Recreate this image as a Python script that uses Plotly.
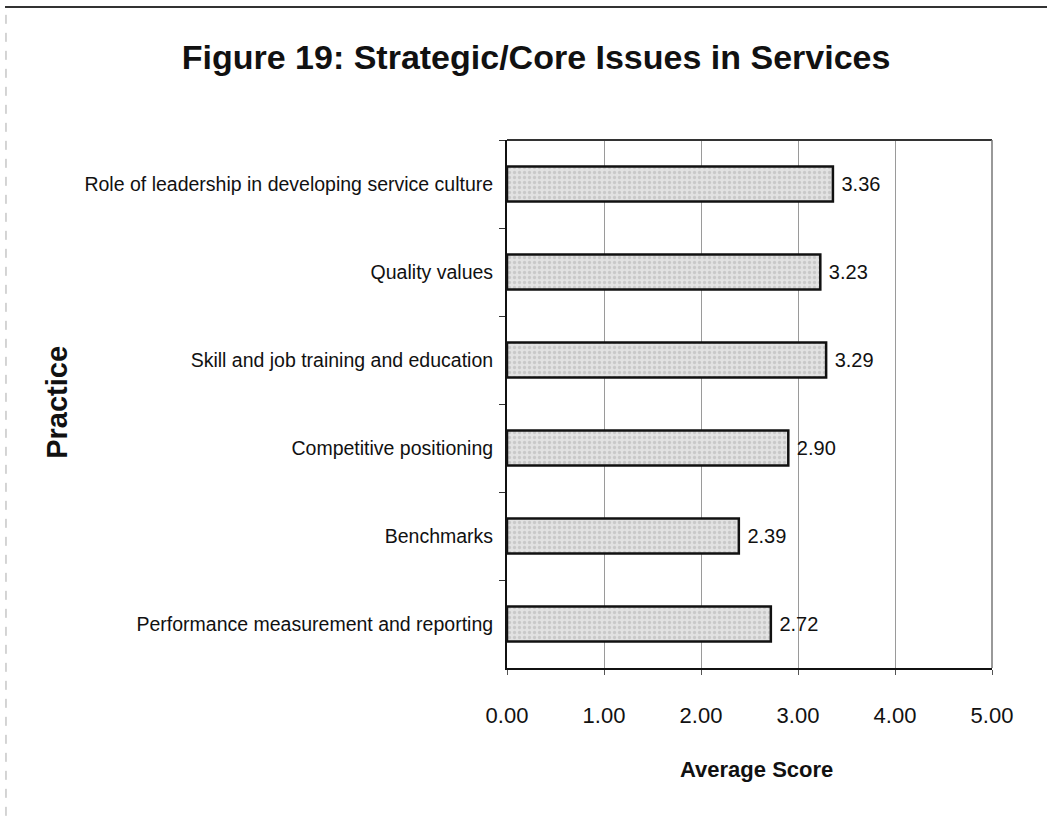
import plotly.graph_objects as go

categories = [
    "Role of leadership in developing service culture",
    "Quality values",
    "Skill and job training and education",
    "Competitive positioning",
    "Benchmarks",
    "Performance measurement and reporting",
]
scores = [3.36, 3.23, 3.29, 2.90, 2.39, 2.72]
x_ticks = [0, 1, 2, 3, 4, 5]
x_tick_labels = ["0.00", "1.00", "2.00", "3.00", "4.00", "5.00"]

FONT = "Liberation Sans, Arial, sans-serif"

fig = go.Figure(
    go.Bar(
        x=scores,
        y=categories,
        orientation="h",
        width=0.4,
        marker=dict(
            color="#dcdcdc",
            line=dict(color="#111111", width=2.5),
            pattern=dict(shape=".", fgcolor="#b0b0b0", bgcolor="#e2e2e2", size=5, solidity=0.35),
        ),
        text=["\u00a0" + f"{v:.2f}" for v in scores],
        textposition="outside",
        textfont=dict(family=FONT, size=20, color="#111111"),
        cliponaxis=False,
    )
)

fig.update_layout(
    width=1047,
    height=818,
    paper_bgcolor="white",
    plot_bgcolor="white",
    margin=dict(l=507, r=55, t=140, b=150),
    showlegend=False,
    title=dict(
        text="<b>Figure 19: Strategic/Core Issues in Services</b>",
        x=0.512,
        xanchor="center",
        y=0.93,
        yanchor="middle",
        font=dict(family=FONT, size=34, color="#111111"),
    ),
    font=dict(family=FONT, color="#111111"),
    shapes=[
        # page frame: top dark line, left faint dashed line
        dict(type="line", xref="paper", yref="paper", x0=-1.035, x1=1.12, y0=1.252, y1=1.252,
             line=dict(color="#333333", width=2)),
        dict(type="line", xref="paper", yref="paper", x0=-1.033, x1=-1.033, y0=-0.28, y1=1.252,
             line=dict(color="#aaaaaa", width=1, dash="dash")),
        # plot frame: top and right
        dict(type="line", xref="paper", yref="paper", x0=0, x1=1, y0=1, y1=1,
             line=dict(color="#333333", width=2)),
        dict(type="line", xref="paper", yref="paper", x0=1, x1=1, y0=0, y1=1,
             line=dict(color="#777777", width=1.5)),
    ],
    annotations=[
        dict(text="<b>Practice</b>", xref="paper", yref="paper", x=-0.927, y=0.503,
             xanchor="center", yanchor="middle", textangle=-90, showarrow=False,
             font=dict(family=FONT, size=29, color="#111111")),
        dict(text="<b>Average Score</b>", xref="paper", yref="paper", x=0.514, y=-0.193,
             xanchor="center", yanchor="middle", showarrow=False,
             font=dict(family=FONT, size=22, color="#111111")),
    ],
)

fig.update_xaxes(
    range=[0, 5],
    tickvals=x_ticks,
    ticktext=x_tick_labels,
    tickfont=dict(family=FONT, size=22, color="#111111"),
    showgrid=True,
    gridcolor="#9a9a9a",
    gridwidth=1,
    showline=True,
    linecolor="#111111",
    linewidth=2,
    mirror=False,
    ticks="outside",
    ticklen=5,
    tickcolor="#555555",
    zeroline=False,
    ticklabelstandoff=22,
)
fig.update_yaxes(
    autorange="reversed",
    tickfont=dict(family=FONT, size=19.5, color="#111111"),
    showline=True,
    linecolor="#111111",
    linewidth=2,
    ticks="outside",
    tickson="boundaries",
    ticklen=6,
    tickcolor="#333333",
    showgrid=False,
    ticklabelstandoff=8,
)

fig.write_html("out.html")
